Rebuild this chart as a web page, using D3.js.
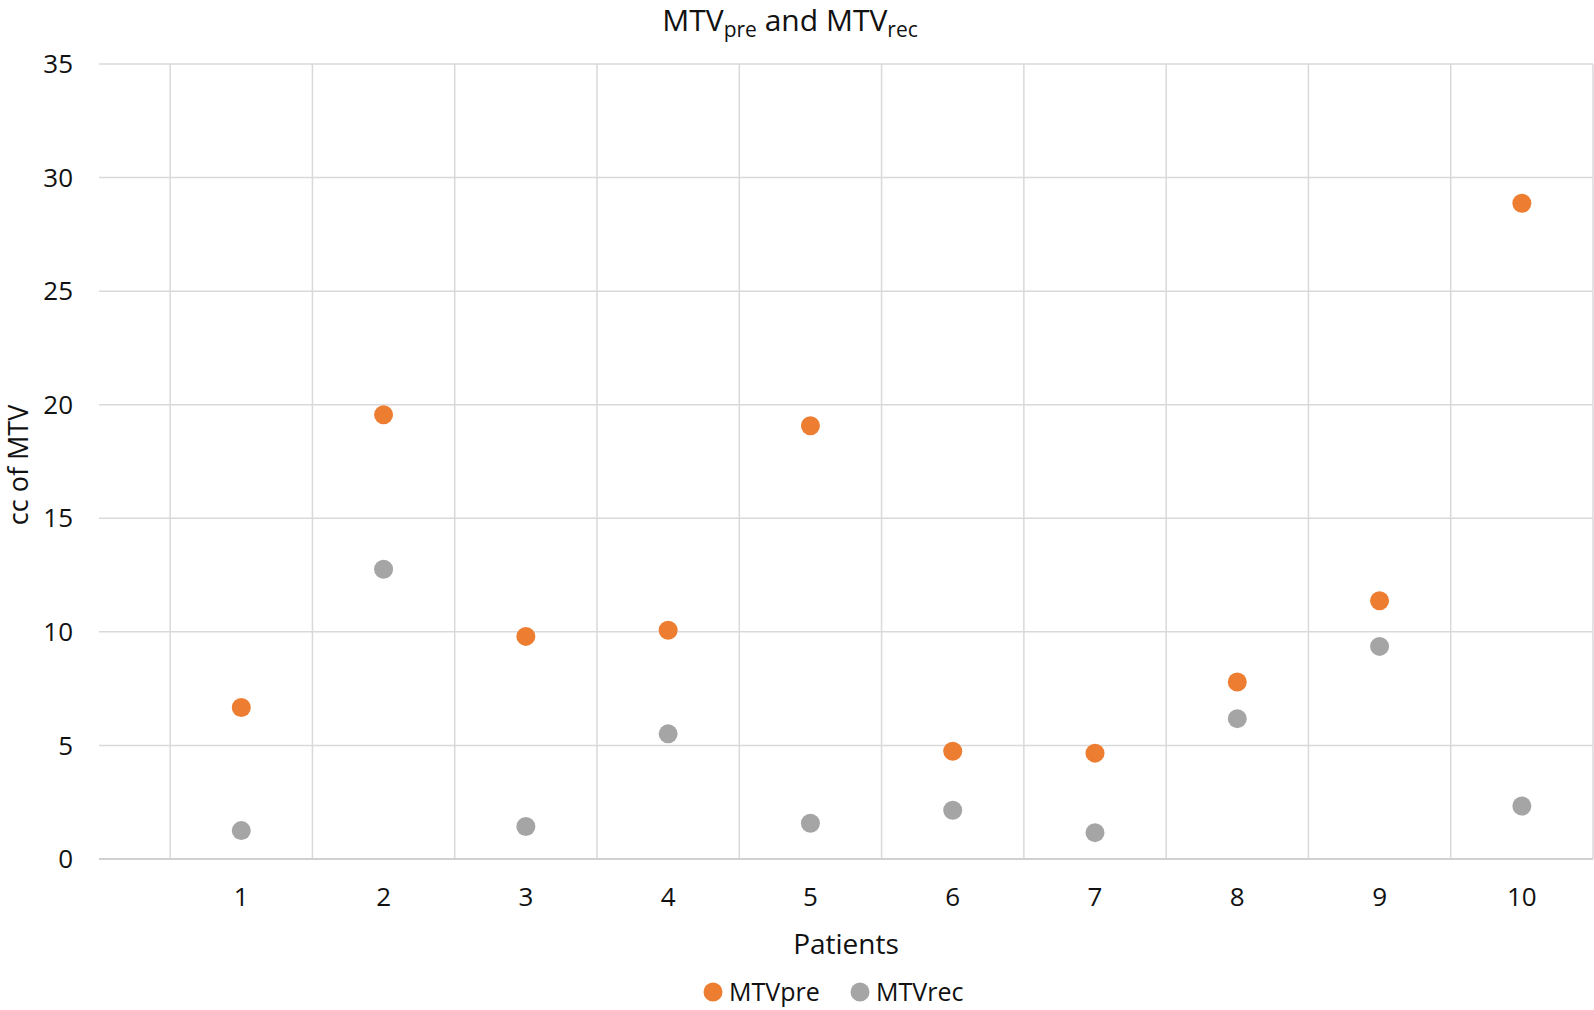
<!DOCTYPE html>
<html><head><meta charset="utf-8">
<script src="https://cdn.jsdelivr.net/npm/d3@7"></script>
<style>body{margin:0;background:#fff}svg{display:block}text{font-family:"Open Sans",Lato,sans-serif;fill:#111}</style>
</head><body>
<svg id="c" width="1594" height="1010"></svg>
<script>
const patients = [1,2,3,4,5,6,7,8,9,10];
const mtvPre = [6.67,19.56,9.8,10.07,19.07,4.74,4.66,7.79,11.37,28.87];
const mtvRec = [1.25,12.76,1.43,5.51,1.57,2.15,1.16,6.18,9.36,2.33];
const yTicks = [0,5,10,15,20,25,30,35];
const seriesNames = ["MTVpre","MTVrec"];
const colors = ["#ED7D31","#A5A5A5"];

const svg = d3.select("#c");
const x = d3.scaleLinear().domain([0,10.5]).range([99,1593]);
const y = d3.scaleLinear().domain([0,35]).range([859,64]);
const grid = "#d9d9d9";

// horizontal grid
svg.append("g").selectAll("line").data(yTicks.filter(d=>d>0)).join("line")
  .attr("x1",x(0)).attr("x2",x(10.5)).attr("y1",d=>y(d)).attr("y2",d=>y(d))
  .attr("stroke",grid).attr("stroke-width",1.5);
// vertical grid
const vlines = patients.map(p=>p-0.5).concat([10.5]);
svg.append("g").selectAll("line").data(vlines).join("line")
  .attr("x1",d=>x(d)).attr("x2",d=>x(d)).attr("y1",y(35)).attr("y2",y(0))
  .attr("stroke",grid).attr("stroke-width",1.5);
// x axis line
svg.append("line").attr("x1",x(0)).attr("x2",x(10.5)).attr("y1",y(0)).attr("y2",y(0))
  .attr("stroke","#d0d0d0").attr("stroke-width",2);

// y tick labels
svg.append("g").selectAll("text").data(yTicks).join("text")
  .attr("x",73).attr("y",d=>y(d)).attr("dy","0.35em").attr("text-anchor","end")
  .style("font-size","26px").text(d=>d);
// x tick labels
svg.append("g").selectAll("text").data(patients).join("text")
  .attr("x",d=>x(d)).attr("y",897).attr("dy","0.35em").attr("text-anchor","middle")
  .style("font-size","26px").text(d=>d);

// axis titles
svg.append("text").attr("x",846).attr("y",944).attr("dy","0.35em").attr("text-anchor","middle")
  .style("font-size","28px").text("Patients");
svg.append("text").attr("transform","translate(19,465) rotate(-90)").attr("dy","0.35em")
  .attr("text-anchor","middle").style("font-size","27px").text("cc of MTV");

// title
const t = svg.append("text").attr("x",790).attr("y",31).attr("text-anchor","middle").style("font-size","30px");
t.append("tspan").text("MTV");
t.append("tspan").attr("dy",6).style("font-size","21px").text("pre");
t.append("tspan").attr("dy",-6).text(" and MTV");
t.append("tspan").attr("dy",6).style("font-size","21px").text("rec");

// points
[mtvPre, mtvRec].forEach((vals,i)=>{
  svg.append("g").selectAll("circle").data(vals).join("circle")
    .attr("cx",(d,j)=>x(patients[j])).attr("cy",d=>y(d)).attr("r",9.5)
    .attr("fill",colors[i]);
});

// legend
const legX = [713, 860];
seriesNames.forEach((n,i)=>{
  svg.append("circle").attr("cx",legX[i]).attr("cy",992).attr("r",9.5).attr("fill",colors[i]);
  svg.append("text").attr("x",legX[i]+16).attr("y",992).attr("dy","0.35em").style("font-size","25px").text(n);
});
</script>
</body></html>
